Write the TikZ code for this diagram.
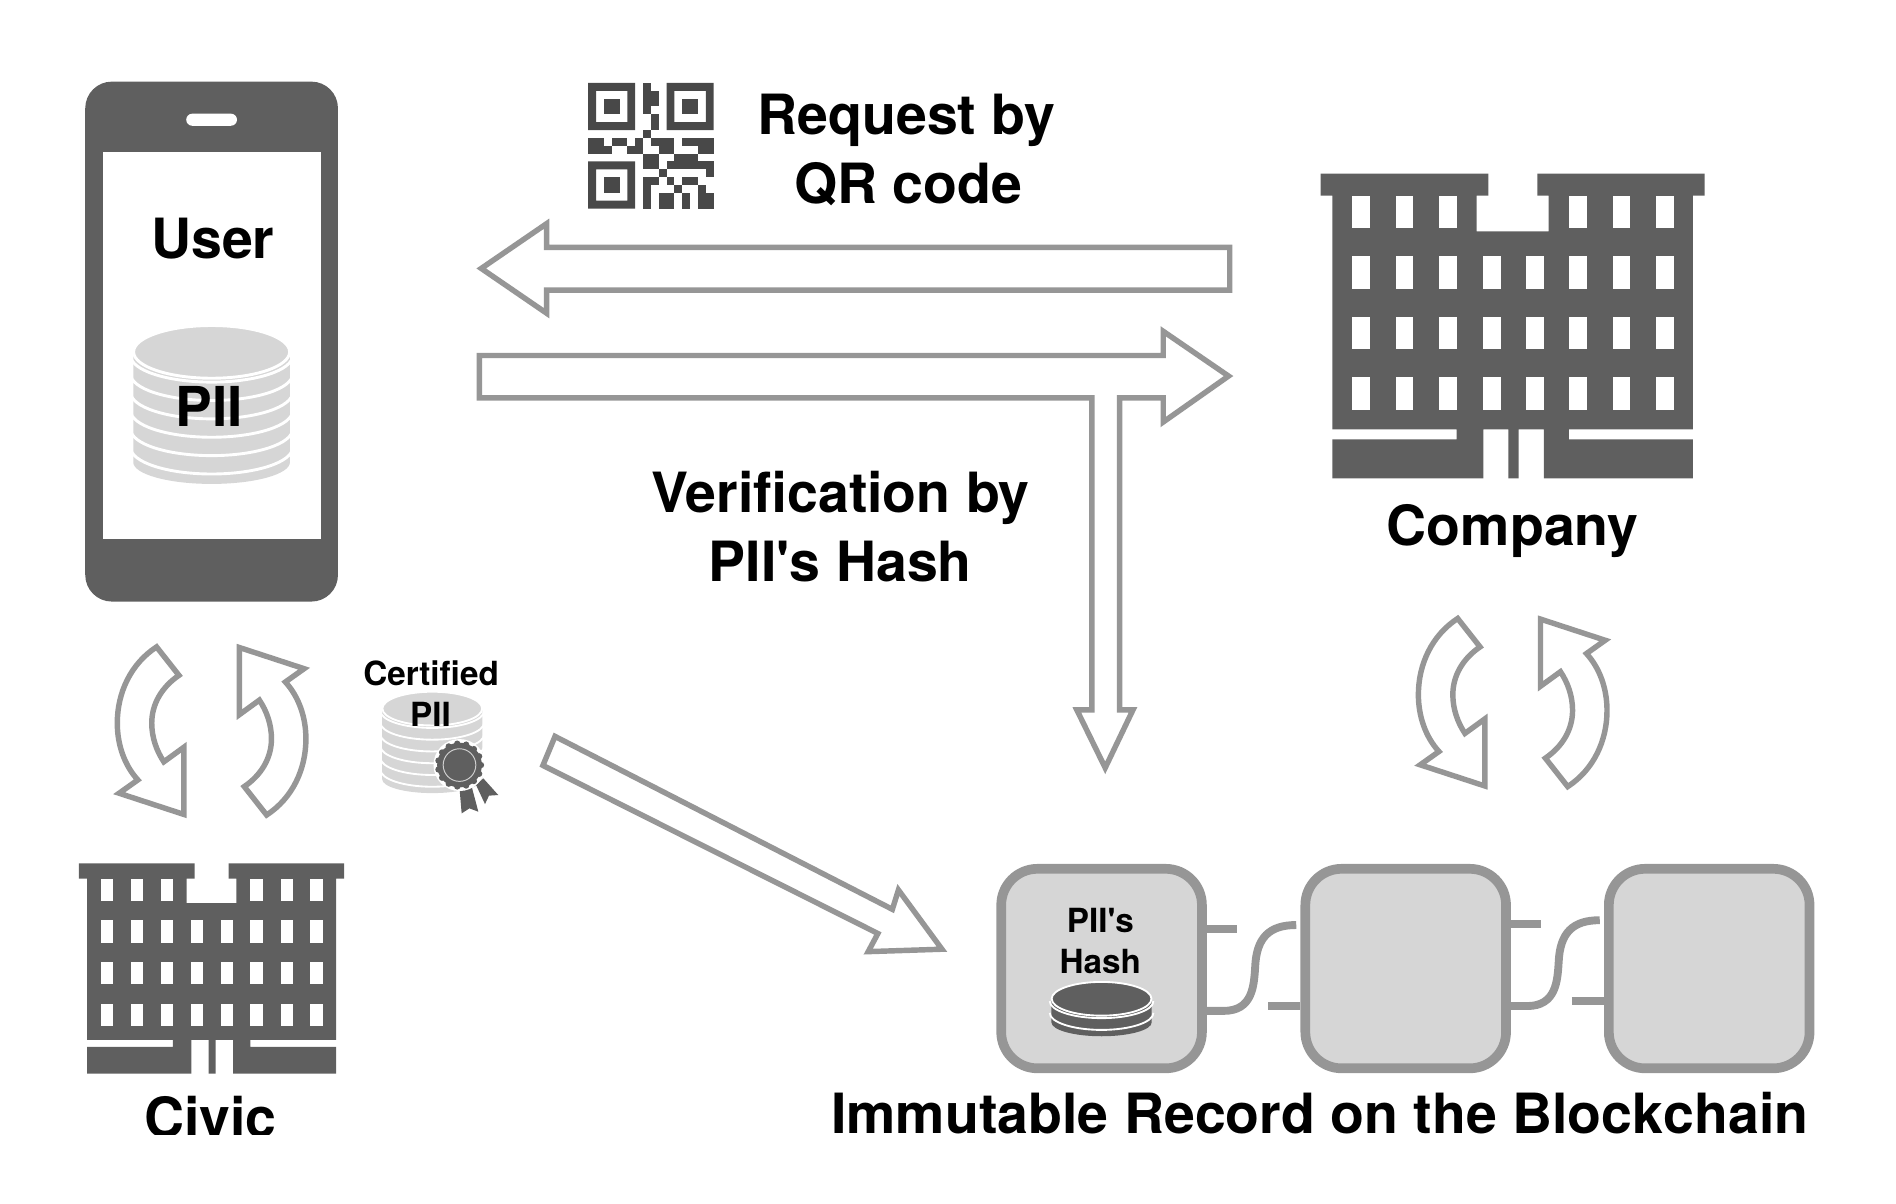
\documentclass[tikz,border=0pt]{standalone}
\usepackage{fontspec}
\setmainfont{TeX Gyre Heros}
\definecolor{darkgr}{HTML}{5F5F5F}
\definecolor{lightgr}{HTML}{D6D6D6}
\definecolor{linegr}{HTML}{969696}
\definecolor{qrgr}{HTML}{484848}
\tikzset{
  biglabel/.style={anchor=base,inner sep=0pt,font=\bfseries\fontsize{45.85}{50}\selectfont},
  smalllabel/.style={anchor=base,inner sep=0pt,font=\bfseries\fontsize{27.5}{30}\selectfont},
  hollowarrow/.style={draw=linegr,fill=white,line width=4.5pt,miter limit=10},
  chainblock/.style={draw=linegr,fill=lightgr,line width=8pt,rounded corners=30pt,minimum width=166pt,minimum height=165pt,inner sep=0pt},
  chainlink/.style={draw=linegr,line width=6.5pt}
}
\newcommand{\piistack}[5]{%
 \begin{scope}[shift={(#1,#2)},scale=#3]
  \pgfmathsetmacro{\stackh}{15.2*#5}
  \fill[#4] (-64.8,0) -- (64.8,0) -- (64.8,\stackh) arc[start angle=0,end angle=-180,x radius=64.8pt,y radius=18pt] -- cycle;
  \foreach \k in {1,...,#5}{
    \draw[white,line width=#3*2.4pt] (-67,{15.2*(\k-1)+3}) arc[start angle=180,end angle=360,x radius=67pt,y radius=22pt];
  }
  \filldraw[fill=#4,draw=white,line width=#3*2.4pt] (0,0) ellipse [x radius=64.5pt,y radius=21.8pt];
 \end{scope}}
\newcommand{\buildingicon}[3]{%
 \begin{scope}[shift={(#1,#2)},scale=#3]
  \fill[darkgr] (61,41)--(564,41)--(564,107)--(529,107)--(529,214)--(745,214)--(745,107)--(711,107)--(711,41)--(1213,41)--(1213,107)--(1178,107)--(1178,808)--(806,808)--(806,838)--(1178,838)--(1178,955)--(731,955)--(731,808)--(655,808)--(655,955)--(624,955)--(624,808)--(549,808)--(549,955)--(96,955)--(96,838)--(469,838)--(469,808)--(96,808)--(96,107)--(61,107)--cycle;
  \foreach \wx in {155,286,417,806,937,1067}{\fill[white] (\wx,107) rectangle ++(53,97);}
  \foreach \wy in {289,470,652}{\foreach \wx in {155,286,417,549,678,806,937,1067}{\fill[white] (\wx,\wy) rectangle ++(53,97);}}
 \end{scope}}
\newcommand{\refresharrow}{%
 \draw[hollowarrow] (129.5,535) .. controls (108,549) and (97,573) .. (97,598) .. controls (97,616) and (103,633) .. (114,645) -- (98.5,656) -- (152,673.5) -- (152,618) -- (135.5,630) .. controls (129.5,621) and (125.5,610) .. (125.5,598) .. controls (125.5,582) and (134,568) .. (148,558.5) -- cycle;}
\newcommand{\qrfinder}[2]{%
 \fill[qrgr,even odd rule] (#1,#2) rectangle ++(6,6) ({#1+1},{#2+1}) rectangle ++(4,4);
 \fill[qrgr] ({#1+2},{#2+2}) rectangle ++(2,2);}
\begin{document}
\begin{tikzpicture}[x=1pt,y=-1pt]
\useasboundingbox (0,0) rectangle (1568,995.7);

% phone
\fill[darkgr,rounded corners=22pt] (70.5,67.5) rectangle (279.5,497.5);
\fill[white] (85,126) rectangle (265.5,445.5);
\fill[white,rounded corners=5pt] (154,94) rectangle (196,104);
\node[biglabel] (user) at (176,214) {User};
\piistack{175}{291}{1}{lightgr}{6}
\node[biglabel,font=\bfseries\fontsize{45.5}{50}\selectfont] (pii) at (173,353) {PII};

% QR code
\begin{scope}[shift={(486.4,68.6)},scale=6.49]
 \qrfinder{0}{0}\qrfinder{10}{0}\qrfinder{0}{10}
 \foreach \c/\r/\w in {7/0/1,7/1/2,7/2/2,7/3/1,8/4/1,8/5/1,7/6/1,
   0/7/2,3/7/2,6/7/1,8/7/3,12/7/4,
   0/8/3,5/8/2,9/8/2,14/8/2,
   7/9/2,11/9/3,
   7/10/2,10/10/4,14/10/2,
   9/11/1,15/11/1,
   7/12/2,10/12/1,12/12/2,
   7/13/1,11/13/1,14/13/1,
   7/14/1,9/14/2,12/14/1,14/14/2,
   7/15/1,9/15/2,12/15/1,14/15/2}{
   \fill[qrgr] (\c,\r) rectangle ++(\w,1);
 }
\end{scope}
\node[biglabel] (req1) at (749.5,111) {Request by};
\node[biglabel] (req2) at (751,168) {QR code};

% company
\buildingicon{1075.3}{132.3}{0.2757}
\node[biglabel] (company) at (1251,451.5) {Company};

% large arrows
\draw[hollowarrow] (398,222) -- (452,185) -- (452,204.5) -- (1017,204.5) -- (1017,240) -- (452,240) -- (452,259) -- cycle;
\draw[hollowarrow] (396.5,294) -- (962,294) -- (962,274) -- (1016,311) -- (962,349) -- (962,329) -- (926,329) -- (926,587) -- (937,587) -- (914,635) -- (890.5,587) -- (903,587) -- (903,329) -- (396.5,329) -- cycle;
\draw[hollowarrow] (459,609) -- (738,752) -- (743,736) -- (779,785) -- (718,787) -- (726,772) -- (449,633) -- cycle;
\node[biglabel] (ver1) at (695,424) {Verification by};
\node[biglabel] (ver2) at (695,481) {PII\textquotesingle s Hash};

% refresh arrows
\refresharrow
\begin{scope}[rotate around={180:(175,604.5)}]\refresharrow\end{scope}
\begin{scope}[shift={(1076,-23.5)}]
 \refresharrow
 \begin{scope}[rotate around={180:(175,604.5)}]\refresharrow\end{scope}
\end{scope}

% certified PII
\node[smalllabel] (cert) at (356.5,567) {Certified};
\piistack{357.5}{586}{0.64}{lightgr}{6}
\node[smalllabel] (pii2) at (356,601) {PII};
\fill[darkgr] (379.9,650.6)--(381.8,672.7)--(388.2,668.5)--(395.6,671.3)--(390.1,650.6)--cycle;
\fill[darkgr] (393.7,649.2)--(399.7,643.7)--(412.1,657.5)--(404.4,658)--(401.1,665)--cycle;
\fill[white] (380,632.7) circle (21.5);
\fill[darkgr] (380,632.7) circle (18.5);
\foreach \ang in {0,24,...,336}{\fill[darkgr] (380,632.7) ++(\ang:17.8) circle (2.6);}
\draw[white!70!darkgr,line width=0.8pt] (380,632.7) circle (13.5);

% civic
\buildingicon{53.7}{706.2}{0.1903}
\begin{scope}
 \clip (100,890) rectangle (260,938);
 \node[biglabel] (civic) at (174,941) {Civic};
\end{scope}

% blockchain
\node[chainblock] (b1) at (911,801) {};
\node[chainblock] (b2) at (1162.5,801) {};
\node[chainblock] (b3) at (1413.5,801) {};
\coordinate (s1) at (1023,768);
\coordinate (s2) at (1049,832);
\coordinate (s3) at (1274,764);
\coordinate (s4) at (1300,828);
\coordinate (c1) at (1072,765);
\coordinate (c2) at (1323,761);
\coordinate (d1) at (997,836);
\coordinate (d2) at (1248,832);
\draw[chainlink] (b1.east |- s1) -- (s1);
\draw[chainlink] (s2) -- (b2.west |- s2);
\draw[chainlink] (b2.east |- s3) -- (s3);
\draw[chainlink] (s4) -- (b3.west |- s4);
\draw[chainlink] (b1.east |- d1) -- (1012,836) .. controls (1036,836) and (1037,815) .. (1038,800) .. controls (1039,775) and (1050,765) .. (c1);
\draw[chainlink] (b2.east |- d2) -- (1263,832) .. controls (1287,832) and (1288,811) .. (1289,796) .. controls (1290,771) and (1301,761) .. (c2);
\node[smalllabel] (h1) at (910,771) {PII\textquotesingle s};
\node[smalllabel] (h2) at (910,805) {Hash};
\piistack{911}{826}{0.64}{darkgr}{2}
\node[biglabel] (imm) at (1091.5,937) {Immutable Record on the Blockchain};
\end{tikzpicture}
\end{document}
